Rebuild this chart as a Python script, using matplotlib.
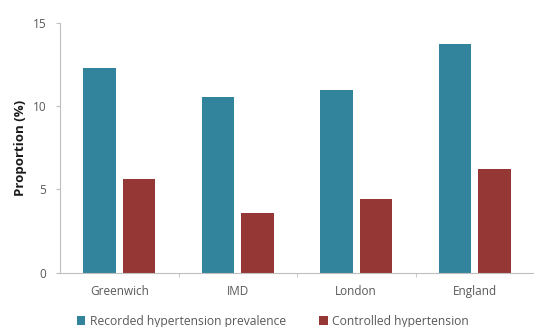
import matplotlib
matplotlib.use("Agg")
import matplotlib.pyplot as plt
import numpy as np

categories = ["Greenwich", "IMD", "London", "England"]
recorded = [12.3, 10.55, 11.0, 13.75]
controlled = [5.6, 3.6, 4.4, 6.2]
series_names = ["Recorded hypertension prevalence", "Controlled hypertension"]
yticks = [0, 5, 10, 15]

blue = "#31849B"
red = "#953735"
axis_gray = "#BFBFBF"
text_gray = "#595959"

plt.rcParams["font.family"] = ["Open Sans", "DejaVu Sans"]

fig = plt.figure(figsize=(5.34, 3.27), dpi=100)
ax = fig.add_axes([60 / 534, 1 - 272.5 / 327, 474 / 534, 249.5 / 327])

x = np.arange(len(categories))
w = 0.276
off = 0.166
ax.bar(x - off, recorded, w, color=blue, label=series_names[0])
ax.bar(x + off, controlled, w, color=red, label=series_names[1])

ax.set_xlim(-0.5, len(categories) - 0.5)
ax.set_ylim(0, 15)
ax.set_yticks(yticks)
ax.set_yticklabels([str(t) for t in yticks], fontsize=8.5, color=text_gray)
ax.set_xticks(x)
ax.set_xticklabels(categories, fontsize=8.5, color=text_gray)
ax.tick_params(axis="x", length=0, pad=9)
ax.tick_params(axis="y", length=3, color=axis_gray, pad=7)
ax.set_xticks(np.arange(0.5, len(categories) - 0.5), minor=True)
ax.tick_params(axis="x", which="minor", length=3, color=axis_gray)

for side in ("top", "right"):
    ax.spines[side].set_visible(False)
for side in ("left", "bottom"):
    ax.spines[side].set_color(axis_gray)
    ax.spines[side].set_linewidth(0.8)

ax.set_ylabel("Proportion (%)", fontsize=9.5, fontweight="bold", color="#1a1a1a", labelpad=4)

fig.legend(loc="center", bbox_to_anchor=(0.511, 1 - 321 / 327), ncol=2, frameon=False,
           fontsize=8.7, handlelength=0.7, handleheight=0.7, handletextpad=0.35,
           columnspacing=2.8, labelcolor=text_gray, borderpad=0)

fig.savefig("out.png", dpi=100)
